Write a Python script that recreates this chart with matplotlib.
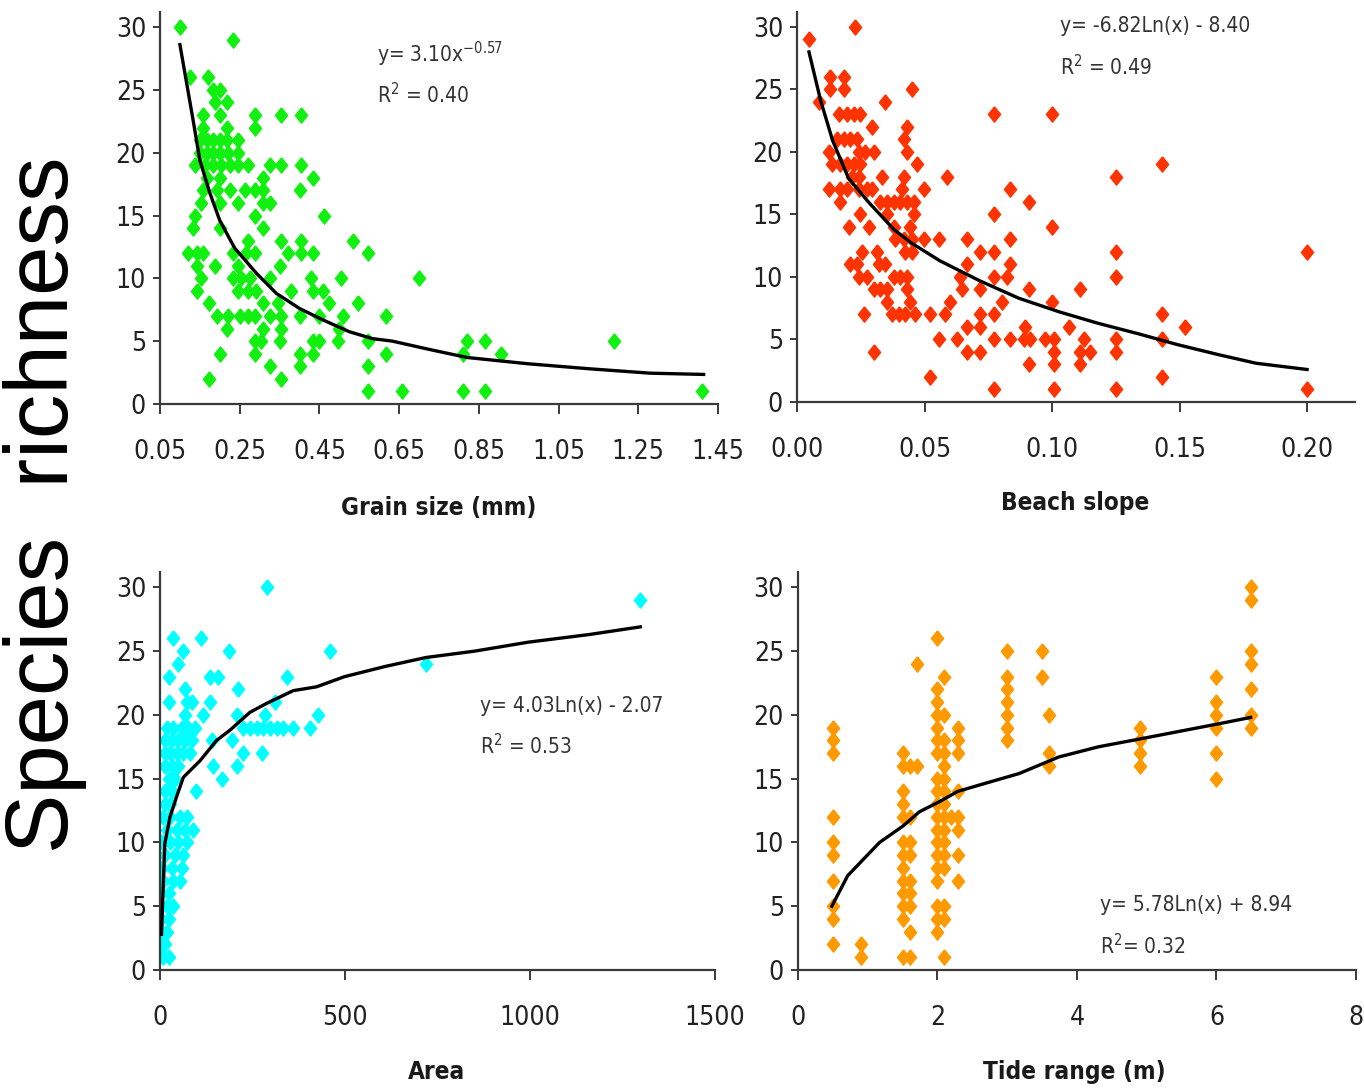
import matplotlib
matplotlib.use("Agg")
import matplotlib.pyplot as plt
from matplotlib import font_manager

# narrow font if one is there, otherwise condensed DejaVu
names = {f.name for f in font_manager.fontManager.ttflist}
NARROW = ["Liberation Sans Narrow"] if "Liberation Sans Narrow" in names else ["DejaVu Sans"]
plt.rcParams["font.family"] = NARROW + ["DejaVu Sans"]
plt.rcParams["font.stretch"] = "condensed"
plt.rcParams["mathtext.default"] = "regular"

# ---- Grain size panel ----
grain_x = [0.10, 0.232, 0.125, 0.171, 0.183, 0.20, 0.1875, 0.217,
           0.157, 0.20, 0.2875, 0.354, 0.404, 0.157, 0.217, 0.2875,
           0.15, 0.167, 0.183, 0.20, 0.217, 0.246,
           0.15, 0.167, 0.183, 0.20, 0.221, 0.246,
           0.1375, 0.1625, 0.183, 0.204, 0.225, 0.246, 0.271, 0.325, 0.354, 0.404,
           0.167, 0.20, 0.308, 0.433,
           0.158, 0.192, 0.225, 0.2625, 0.2875, 0.308, 0.40,
           0.154, 0.20, 0.246, 0.308, 0.325,
           0.1375, 0.2875, 0.4625, 0.133, 0.20, 0.308,
           0.271, 0.354, 0.404, 0.533,
           0.121, 0.142, 0.158, 0.233, 0.267, 0.2875, 0.371, 0.404, 0.433, 0.571,
           0.142, 0.1875, 0.246, 0.35,
           0.154, 0.233, 0.254, 0.275, 0.325, 0.429, 0.504, 0.70,
           0.142, 0.246, 0.271, 0.292, 0.379, 0.433, 0.458,
           0.173, 0.308, 0.346, 0.475, 0.546,
           0.192, 0.221, 0.25, 0.271, 0.2875, 0.325, 0.354, 0.40, 0.45, 0.508, 0.617,
           0.217, 0.308, 0.354, 0.50,
           0.2875, 0.304, 0.35, 0.433, 0.45, 0.496, 0.571,
           0.20, 0.2875, 0.40, 0.433, 0.617,
           0.325, 0.40, 0.571, 0.173, 0.354, 0.571, 0.658,
           0.82, 0.865, 0.81, 0.905, 0.81, 0.865, 1.19, 1.41]
grain_y = [30, 29, 26, 26, 25, 25, 24, 24,
           23, 23, 23, 23, 23, 22, 22, 22,
           21, 21, 21, 21, 21, 21,
           20, 20, 20, 20, 20, 20,
           19, 19, 19, 19, 19, 19, 19, 19, 19, 19,
           18, 18, 18, 18,
           17, 17, 17, 17, 17, 17, 17,
           16, 16, 16, 16, 16,
           15, 15, 15, 14, 14, 14,
           13, 13, 13, 13,
           12, 12, 12, 12, 12, 12, 12, 12, 12, 12,
           11, 11, 11, 11,
           10, 10, 10, 10, 10, 10, 10, 10,
           9, 9, 9, 9, 9, 9, 9,
           8, 8, 8, 8, 8,
           7, 7, 7, 7, 7, 7, 7, 7, 7, 7, 7,
           6, 6, 6, 6,
           5, 5, 5, 5, 5, 5, 5,
           4, 4, 4, 4, 4,
           3, 3, 3, 2, 2, 1, 1,
           5, 5, 4, 4, 1, 1, 5, 1]
grain_fit_x = [0.10, 0.133, 0.15, 0.175, 0.20, 0.2375, 0.292, 0.342, 0.40, 0.458,
               0.525, 0.583, 0.633, 0.717, 0.82, 0.973, 1.127, 1.28, 1.414]
grain_fit_y = [28.6, 22.6, 19.4, 16.8, 14.6, 12.4, 10.4, 8.8, 7.6, 6.7,
               5.75, 5.2, 5.0, 4.4, 3.7, 3.2, 2.8, 2.45, 2.35]

# ---- Beach slope panel ----
slope_x = [0.0229, 0.0046, 0.0131, 0.0183, 0.0131, 0.0183, 0.0451, 0.0085, 0.0346,
           0.0163, 0.0196, 0.0222, 0.0248, 0.0771, 0.100, 0.0294, 0.0431,
           0.0157, 0.0183, 0.0209, 0.0235, 0.0418,
           0.0124, 0.0242, 0.0268, 0.0301, 0.0431,
           0.0137, 0.017, 0.0196, 0.0222, 0.0248, 0.0471,
           0.0216, 0.0242, 0.0333, 0.0418, 0.0588,
           0.0124, 0.017, 0.0196, 0.0242, 0.0275, 0.0294, 0.0412, 0.0497, 0.0837,
           0.017, 0.0327, 0.0353, 0.0379, 0.0405, 0.0431, 0.0458, 0.0908,
           0.0248, 0.0353, 0.0458, 0.0771,
           0.0203, 0.0281, 0.0379, 0.0444, 0.100,
           0.0386, 0.0418, 0.0451, 0.0497, 0.0556, 0.0667, 0.0837,
           0.0255, 0.0314, 0.0425, 0.0451, 0.0719, 0.0771,
           0.0209, 0.0235, 0.032, 0.0346, 0.0667, 0.0837,
           0.0242, 0.0275, 0.0379, 0.0405, 0.0431, 0.064, 0.0771, 0.0824,
           0.0301, 0.0327, 0.0353, 0.0431, 0.0647, 0.0719, 0.0908, 0.111,
           0.0353, 0.0444, 0.0601, 0.0804, 0.100,
           0.0261, 0.0373, 0.0399, 0.0425, 0.0464, 0.0523, 0.0582, 0.0719, 0.0771,
           0.0667, 0.0719, 0.0895, 0.1065,
           0.0556, 0.0627, 0.0771, 0.0837, 0.0889, 0.0915, 0.0974, 0.1007, 0.1124,
           0.0301, 0.0667, 0.0719, 0.1007, 0.111, 0.115,
           0.0908, 0.1007, 0.111, 0.0523, 0.0771, 0.1007,
           0.125, 0.125, 0.125, 0.125, 0.125, 0.125,
           0.143, 0.143, 0.143, 0.143, 0.152, 0.20, 0.20]
slope_y = [30, 29, 26, 26, 25, 25, 25, 24, 24,
           23, 23, 23, 23, 23, 23, 22, 22,
           21, 21, 21, 21, 21,
           20, 20, 20, 20, 20,
           19, 19, 19, 19, 19, 19,
           18, 18, 18, 18, 18,
           17, 17, 17, 17, 17, 17, 17, 17, 17,
           16, 16, 16, 16, 16, 16, 16, 16,
           15, 15, 15, 15,
           14, 14, 14, 14, 14,
           13, 13, 13, 13, 13, 13, 13,
           12, 12, 12, 12, 12, 12,
           11, 11, 11, 11, 11, 11,
           10, 10, 10, 10, 10, 10, 10, 10,
           9, 9, 9, 9, 9, 9, 9, 9,
           8, 8, 8, 8, 8,
           7, 7, 7, 7, 7, 7, 7, 7, 7,
           6, 6, 6, 6,
           5, 5, 5, 5, 5, 5, 5, 5, 5,
           4, 4, 4, 4, 4, 4,
           3, 3, 3, 2, 1, 1,
           18, 12, 10, 5, 4, 1,
           19, 7, 5, 2, 6, 12, 1]
slope_fit_x = [0.0047, 0.0093, 0.014, 0.0202, 0.028, 0.038, 0.045, 0.056, 0.0716,
               0.087, 0.103, 0.118, 0.134, 0.149, 0.165, 0.18, 0.20]
slope_fit_y = [28.0, 24.1, 20.9, 17.9, 16.0, 13.8, 12.7, 11.3, 9.7,
               8.3, 7.2, 6.3, 5.45, 4.6, 3.8, 3.1, 2.6]

# ---- Area panel ----
area_x = [288, 34, 110, 63, 187, 459, 50, 719, 25, 135, 158, 342, 68, 212,
          25, 72, 86, 135, 311, 68, 117, 207, 284, 428,
          18, 36, 59, 77, 95, 225, 243, 261, 279, 297, 315, 333, 360, 405,
          14, 32, 50, 68, 86, 140, 194,
          14, 27, 45, 63, 81, 225, 275,
          14, 32, 50, 144, 207, 23, 41, 167, 14, 32, 97, 14, 27,
          9, 27, 54, 72, 18, 45, 68, 90, 5, 27, 50, 72,
          14, 41, 63, 5, 32, 59, 9, 36, 54, 2, 23, 3, 18, 36,
          3, 23, 5, 18, 5, 14, 9, 23, 1298]
area_y = [30, 26, 26, 25, 25, 25, 24, 24, 23, 23, 23, 23, 22, 22,
          21, 21, 21, 21, 21, 20, 20, 20, 20, 20,
          19, 19, 19, 19, 19, 19, 19, 19, 19, 19, 19, 19, 19, 19,
          18, 18, 18, 18, 18, 18, 18,
          17, 17, 17, 17, 17, 17, 17,
          16, 16, 16, 16, 16, 15, 15, 15, 14, 14, 14, 13, 13,
          12, 12, 12, 12, 11, 11, 11, 11, 10, 10, 10, 10,
          9, 9, 9, 8, 8, 8, 7, 7, 7, 6, 6, 5, 5, 5,
          4, 4, 3, 3, 2, 2, 1, 1, 29]
area_fit_x = [4, 8, 13, 27, 45, 63, 108, 153, 189, 243, 288, 360, 423, 499,
              609, 719, 851, 995, 1160, 1298]
area_fit_y = [2.8, 6.0, 9.9, 12.0, 13.6, 15.1, 16.4, 18.0, 18.8, 20.2, 20.9, 21.9,
              22.2, 23.0, 23.8, 24.5, 25.0, 25.7, 26.3, 26.9]

# ---- Tide range panel ----
tide_x = ([0.5] * 10 + [0.9] * 2 + [1.5] * 13 + [1.6] * 9 + [1.7] * 2
          + [2.0] * 19 + [2.1] * 16 + [2.2] + [2.3] * 8 + [3.0] * 7 + [3.5] * 2
          + [3.6] * 3 + [4.9] * 4 + [6.0] * 6 + [6.5] * 7)
tide_y = ([19, 18, 17, 12, 10, 9, 7, 5, 4, 2]
          + [2, 1]
          + [17, 16, 14, 13, 12, 10, 9, 8, 7, 6, 5, 4, 1]
          + [16, 12, 10, 9, 7, 6, 5, 3, 1]
          + [16, 24]
          + [26, 22, 21, 20, 19, 18, 17, 15, 14, 13, 12, 11, 10, 9, 8, 7, 5, 4, 3]
          + [23, 20, 18, 17, 16, 15, 14, 13, 12, 11, 10, 9, 8, 5, 4, 1]
          + [12]
          + [19, 18, 17, 14, 12, 11, 9, 7]
          + [25, 23, 22, 21, 20, 19, 18]
          + [25, 23]
          + [20, 17, 16]
          + [19, 18, 17, 16]
          + [23, 21, 20, 19, 17, 15]
          + [30, 29, 25, 24, 22, 20, 19])
tide_fit_x = [0.486, 0.714, 1.17, 1.51, 1.74, 2.03, 2.29, 2.6, 3.17, 3.74, 4.31,
              4.89, 5.46, 6.03, 6.49]
tide_fit_y = [5.0, 7.4, 10.0, 11.3, 12.4, 13.2, 14.0, 14.5, 15.4, 16.7, 17.5,
              18.1, 18.7, 19.3, 19.8]

y_ticks = [0, 5, 10, 15, 20, 25, 30]

panels = [
    dict(rect=[0.1173, 0.6294, 0.4091, 0.3596], x=grain_x, y=grain_y,
         fx=grain_fit_x, fy=grain_fit_y, color="#11f011", xlim=(0.05, 1.45),
         xticks=[0.05, 0.25, 0.45, 0.65, 0.85, 1.05, 1.25, 1.45],
         xfmt="{:.2f}", xlabel="Grain size (mm)", lab=(0.5, -0.265),
         eq="y= 3.10x$^{-0.57}$", r2="R$^{2}$ = 0.40",
         eqpos=(0.595, 27.8), r2pos=(0.595, 24.6)),
    dict(rect=[0.5843, 0.6312, 0.4091, 0.3578], x=slope_x, y=slope_y,
         fx=slope_fit_x, fy=slope_fit_y, color="#ff3300", xlim=(0, 0.2188),
         xticks=[0.0, 0.05, 0.10, 0.15, 0.20],
         xfmt="{:.2f}", xlabel="Beach slope", lab=(0.498, -0.259),
         eq="y= -6.82Ln(x) - 8.40", r2="R$^{2}$ = 0.49",
         eqpos=(0.103, 30.1), r2pos=(0.103, 26.8)),
    dict(rect=[0.1173, 0.1101, 0.4069, 0.3651], x=area_x, y=area_y,
         fx=area_fit_x, fy=area_fit_y, color="#00ffff", xlim=(0, 1500),
         xticks=[0, 500, 1000, 1500],
         xfmt="{:d}", xlabel="Area", lab=(0.499, -0.256),
         eq="y= 4.03Ln(x) - 2.07", r2="R$^{2}$ = 0.53",
         eqpos=(865, 20.7), r2pos=(865, 17.6)),
    dict(rect=[0.5850, 0.1101, 0.4091, 0.3651], x=tide_x, y=tide_y,
         fx=tide_fit_x, fy=tide_fit_y, color="#ff9900", xlim=(0, 8),
         xticks=[0, 2, 4, 6, 8],
         xfmt="{:d}", xlabel="Tide range (m)", lab=(0.496, -0.256),
         eq="y= 5.78Ln(x) + 8.94", r2="R$^{2}$= 0.32",
         eqpos=(4.33, 5.1), r2pos=(4.33, 1.95)),
]

diamond = [(0, 1), (0.8, 0), (0, -1), (-0.8, 0), (0, 1)]

fig = plt.figure(figsize=(13.64, 10.9), dpi=100)

for p in panels:
    ax = fig.add_axes(p["rect"])
    ax.plot(p["x"], p["y"], ls="none", marker=diamond, ms=11,
            color=p["color"], mec=p["color"], zorder=2)
    ax.plot(p["fx"], p["fy"], color="black", lw=2.4, zorder=3)
    ax.set_xlim(*p["xlim"])
    ax.set_ylim(0, 31.2)
    ax.set_yticks(y_ticks)
    ax.set_yticklabels([str(t) for t in y_ticks])
    ax.set_xticks(p["xticks"])
    ax.set_xticklabels([p["xfmt"].format(t) for t in p["xticks"]])
    for s in ["top", "right"]:
        ax.spines[s].set_visible(False)
    for s in ["left", "bottom"]:
        ax.spines[s].set_color("#3a3a3a")
        ax.spines[s].set_linewidth(1.6)
    ax.tick_params(axis="y", direction="out", length=5, width=1.4,
                   color="#3a3a3a", labelsize=19, labelcolor="#222222", pad=5)
    ax.tick_params(axis="x", direction="out", length=7, width=1.4,
                   color="#3a3a3a", labelsize=19, labelcolor="#222222", pad=18)
    ax.set_xlabel(p["xlabel"], fontsize=17.5, fontweight="bold", color="#1a1a1a",
                  va="center")
    ax.xaxis.set_label_coords(*p["lab"])
    ax.text(*p["eqpos"], p["eq"], fontsize=15, color="#333333", va="center")
    ax.text(*p["r2pos"], p["r2"], fontsize=15, color="#333333", va="center")

fig.text(0.033, 0.5367, "Species  richness", rotation=90, ha="center",
         va="center", fontsize=64, family=["Liberation Sans", "DejaVu Sans"],
         fontstretch="normal", color="black")

fig.savefig("out.png", dpi=100, facecolor="white")
